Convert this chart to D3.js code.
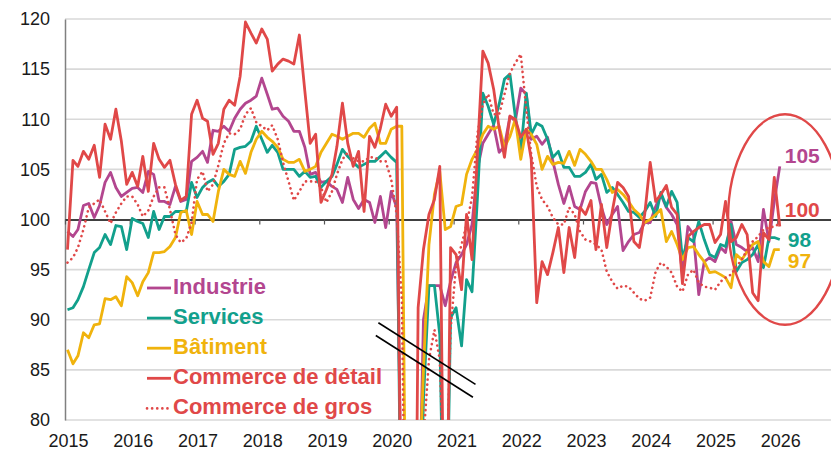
<!DOCTYPE html>
<html><head><meta charset="utf-8">
<script src="https://cdn.jsdelivr.net/npm/d3@7"></script>
<style>body{margin:0;background:#fff}svg{display:block}</style>
</head><body><svg id="c" width="831" height="452"></svg>
<script>
// Monthly data, Jan 2015 -> Jan 2026 (values below 80 fall off the plotted range)
const industrie = [
 98.8, 98.3, 99.0,101.4,101.6,100.2,101.4,103.7,104.7,103.2,
 102.3,102.7,103.1,103.2,102.7,104.8,104.5,101.8,101.8,101.5,
 103.3,101.8,102.0,105.8,106.2,106.8,105.7,108.9,108.8,109.3,
 108.8,110.1,111.0,111.6,111.9,112.3,114.1,112.5,111.0,111.1,
 110.3,109.8,108.8,108.8,107.2,104.5,104.7,103.7,103.8,103.3,
 103.0,101.7,104.2,102.0,101.1,102.0,101.7, 99.7,102.3, 99.2,
 102.8,101.2, 70.0, 50.0, 55.0, 65.0, 90.0, 93.4, 93.4, 93.4,
  91.4, 93.8, 95.7, 96.5, 97.5, 99.5,105.0,107.6,108.5,109.4,
 106.7,107.3,110.3,109.8,113.1,112.5,108.0,108.3,107.5,108.2,
 105.8,103.5,101.6,103.3,101.3,101.0,102.8,103.7,103.6,101.2,
  99.5,100.5,101.3, 96.9, 97.8, 98.5, 98.7, 99.7, 99.7,101.3,
 102.5,101.2,100.5, 99.5, 94.5, 99.3, 98.5, 92.5, 95.8, 96.2,
  95.8, 97.2, 96.7, 99.8, 97.5, 97.2, 96.8, 97.2, 95.8,101.0,
  97.8,101.8,105.3];
const services = [
 91.0, 91.2, 92.0, 93.3, 95.0, 96.7, 97.2, 98.5, 97.5, 99.4,
 99.3, 97.0,100.1, 99.8, 99.6, 98.2,100.8, 99.0,100.3,100.3,
 100.8,100.8,100.8,103.7,102.2,103.2,103.7,104.0,103.3,103.8,
 104.5,107.0,107.2,107.3,107.8,109.3,108.0,106.7,107.4,106.7,
 105.0,105.0,105.0,104.3,104.8,104.2,104.3,103.2,103.8,104.3,
 105.5,107.0,106.3,105.7,105.2,105.5,105.8,105.8,106.3,106.8,
 106.2,105.7, 60.0, 55.0, 55.0, 60.0, 82.0, 93.4, 93.4, 88.5,
  60.0, 90.2, 91.2, 87.4, 94.0, 92.8,102.0,112.6,111.3,109.5,
 111.5,114.0,114.5,110.3,106.8,112.6,108.5,109.6,109.3,108.0,
 106.2,106.8,105.2,105.2,104.3,104.3,104.7,105.5,104.0,104.5,
 102.7,103.2,102.5,101.7,100.8,100.7,100.2,100.8,101.7,100.3,
 102.7,101.3,102.8,101.7, 96.0, 98.2, 97.8, 99.8, 98.0, 96.5,
  96.2, 97.5, 97.3, 99.5, 94.8, 95.7, 96.0, 96.5, 97.5, 95.2,
  98.2, 98.2, 98.0];
const batiment = [
 87.0, 85.6, 86.4, 88.7, 88.2, 89.5, 89.6, 92.1, 92.0, 92.3,
 91.4, 94.3, 93.7, 92.4, 93.8, 94.7, 96.7, 96.7, 96.8, 97.3,
 98.2,100.7,100.9, 98.5,101.8,100.5,100.5, 99.8,102.8,105.0,
 104.5,104.3,105.8,104.6,106.7,108.0,108.8,108.2,107.8,107.2,
 106.0,105.7,105.7,106.0,104.8,105.0,105.3,106.7,107.6,108.5,
 108.3,108.0,108.3,108.6,108.6,108.2,109.1,109.6,107.6,107.6,
 109.0,109.3,109.3, 50.0, 55.0, 70.0, 85.0, 97.5,102.5,104.8,
  99.0, 99.3,101.3,101.5,104.5,106.0,107.0,108.5,109.3,109.0,
 109.3,107.2,108.3,110.0,106.0,109.0,108.5,107.5,105.0,106.3,
 105.5,105.7,105.6,106.8,105.4,107.0,106.5,105.8,105.0,105.0,
 104.0,102.7,103.0,102.5,101.8,101.0,100.5, 99.7,100.0,100.5,
 101.0, 97.8, 98.8, 97.5, 96.0, 97.2, 97.3, 96.5, 95.8, 94.7,
  94.8, 94.5, 94.2, 93.2, 96.5, 96.0, 96.8, 97.5, 97.8, 95.8,
  95.3, 97.0, 97.0];
const commerceDetail = [
 97.0,105.9,105.3,106.8,106.0,107.4,104.2,109.5,108.0,111.0,
 107.8,103.5,104.7,103.3,106.3,102.8,107.6,106.0,105.2,105.9,
 103.5,101.9,102.3,110.5,111.9,110.1,109.8,106.5,107.6,111.0,
 111.9,111.4,114.3,119.7,118.6,117.6,119.0,118.0,114.8,115.5,
 116.0,115.8,115.5,118.4,112.8,107.6,108.5,101.7,103.0,104.5,
 107.3,111.6,107.6,105.3,106.8,100.8,108.3,107.2,109.1,111.5,
 110.3,111.2, 60.0, 40.0, 30.0, 91.2, 97.0,100.5,102.0,105.3,
  55.0, 97.2, 96.5, 93.0,100.5, 96.0,106.5,116.8,115.6,113.0,
 109.1,106.2,110.3,110.0,108.2,109.0,106.0, 91.7, 95.8, 94.5,
  96.7, 99.2, 94.7, 99.2, 96.2,101.2,100.5,101.9, 97.0,101.5,
  97.2,100.8,103.7,103.2,102.3, 97.8, 97.2,100.5,105.7,101.8,
 102.5,103.4,101.2,100.5, 93.6, 98.3, 98.8, 99.2, 99.5, 99.5,
  97.7, 98.5,101.8, 97.8, 98.2, 99.5, 98.5, 92.7, 91.9, 98.7,
  98.0,104.2, 99.3];
const commerceGros = [
 95.7, 96.2, 97.2, 99.0,101.2,101.6,102.0,100.8, 99.6,100.7,
 101.6,102.3,102.3,101.5,100.3,100.9,102.3,103.2,103.2,101.0,
  98.5, 97.7, 98.1, 99.7,104.0,104.8,102.8,103.5,105.4,107.6,
 108.6,108.5,109.0,110.5,111.1,109.7,109.3,108.9,109.4,108.0,
 105.7,103.8,101.9,102.8,103.8,103.8,103.8,103.2,101.7,102.8,
 104.5,106.0,106.7,106.1,105.8,105.8,106.2,106.2,105.8,105.8,
 104.0,100.5, 92.0, 50.0, 55.0, 65.0, 78.0, 86.0, 89.0, 86.0,
  70.0, 89.0, 95.5, 97.5, 99.5,102.2,108.5,111.5,112.5,110.5,
 110.5,112.5,114.6,115.6,116.5,111.0,106.5,103.3,102.0,101.3,
 100.2, 99.5, 99.5,101.2,100.5, 98.8, 98.0, 97.8, 97.5, 97.0,
  94.8, 93.8, 93.1, 93.4, 93.3, 92.7, 92.1, 91.9, 92.2, 94.8,
  95.7, 95.3, 94.7, 93.3, 92.8, 94.5, 95.0, 93.7, 93.3, 93.2,
  93.0, 93.8, 94.2, 94.5, 95.3, 96.0, 97.0, 97.8, 98.3, 99.0,
  99.2, 99.3, 99.6];

const seriesNames = ["Industrie","Services","Bâtiment","Commerce de détail","Commerce de gros"];
const seriesValues = [industrie, services, batiment, commerceDetail, commerceGros];
const seriesColors = ["#b3468f","#12a08c","#f0b30d","#e04848","#e04848"];
const seriesDotted = [false,false,false,false,true];
const yTicks = [80,85,90,95,100,105,110,115,120];
const yearLabels = [2015,2016,2017,2018,2019,2020,2021,2022,2023,2024,2025,2026];
const endLabelText = ["105","98","97","100"];
const endLabelSeries = [0,1,2,3];
const endLabelAt = [106.4,98.0,95.9,101.0];

const months = d3.timeMonths(new Date(2015,0,1), new Date(2026,1,1)); // Jan 2015 .. Jan 2026
const midMonth = m => new Date(m.getFullYear(), m.getMonth(), 15);

const W = 831, H = 452;
const FONT = "'Liberation Sans', Arial, Helvetica, sans-serif";
const svg = d3.select("#c");
svg.append("rect").attr("width",W).attr("height",H).attr("fill","#fff");

const x = d3.scaleTime().domain([new Date(2015,0,1), new Date(2027,0,1)]).range([65, 842]);
const y = d3.scaleLinear().domain([80,120]).range([420, 19]);

// gridlines
svg.append("g").selectAll("line").data(yTicks.filter(v => v !== 100)).join("line")
  .attr("x1", x.range()[0]).attr("x2", W)
  .attr("y1", d => y(d)).attr("y2", d => y(d))
  .attr("stroke", "#d9d9d9").attr("stroke-width", 1.6);

// y axis
const ya = svg.append("g").attr("transform", `translate(${x.range()[0]},0)`)
  .call(d3.axisLeft(y).tickValues(yTicks).tickSize(0).tickPadding(15));
ya.select(".domain").attr("stroke", "#808080").attr("stroke-width", 1.5);
ya.selectAll("text").attr("font-size", 18).attr("font-family", FONT).attr("fill", "#1a1a1a");

// x axis along 100
const xa = svg.append("g").attr("transform", `translate(0,${y(100)})`)
  .call(d3.axisBottom(x).ticks(d3.timeYear.every(1)).tickSize(5).tickSizeOuter(0).tickFormat(""));
xa.select(".domain").attr("stroke", "#000").attr("stroke-width", 1.3);
xa.selectAll(".tick line").attr("stroke", "#555").attr("stroke-width", 1.2);

// year labels
const xl = svg.append("g").attr("transform", `translate(3,${y(80)})`)
  .call(d3.axisBottom(x).tickValues(yearLabels.map(v => new Date(v,0,1))).tickSize(0).tickPadding(14)
    .tickFormat(d3.timeFormat("%Y")));
xl.select(".domain").remove();
xl.selectAll("text").attr("font-size", 18).attr("font-family", FONT).attr("fill", "#1a1a1a");

// clip
svg.append("clipPath").attr("id","plot").append("rect")
  .attr("x", x.range()[0]).attr("y", y(120) - 2).attr("width", W - x.range()[0]).attr("height", y(80) - y(120) + 2);

const line = d3.line().x((d,i) => x(midMonth(months[i]))).y(d => y(d));
const gl = svg.append("g").attr("clip-path","url(#plot)");
seriesValues.forEach((vals, k) => {
  gl.append("path").datum(vals).attr("d", line)
    .attr("fill","none").attr("stroke", seriesColors[k])
    .attr("stroke-width", seriesDotted[k] ? 2.6 : 2.8)
    .attr("stroke-linejoin","round")
    .attr("stroke-linecap", seriesDotted[k] ? "round" : "butt")
    .attr("stroke-dasharray", seriesDotted[k] ? "0.1 5" : null);
});

// break marks
const breakMarks = [
  [[2019.84, 89.7],[2021.34, 83.55]],
  [[2019.80, 88.43],[2021.30, 82.27]]
];
const yr = v => new Date(2015,0,1).getTime() + (v - 2015) * 365.25 * 864e5;
svg.append("g").selectAll("line").data(breakMarks).join("line")
  .attr("x1", d => x(yr(d[0][0]))).attr("y1", d => y(d[0][1]))
  .attr("x2", d => x(yr(d[1][0]))).attr("y2", d => y(d[1][1]))
  .attr("stroke","#000").attr("stroke-width",1.6);

// ellipse highlight
const ecx = x(yr(2026.12)), ecy = y(100);
svg.append("ellipse").attr("cx", ecx).attr("cy", ecy)
  .attr("rx", x(yr(2027)) - ecx).attr("ry", y(89.5) - ecy)
  .attr("fill","none").attr("stroke","#e04848").attr("stroke-width",2.4);

// end labels
const lastX = x(midMonth(months[months.length-1]));
svg.append("g").selectAll("text").data(endLabelText).join("text")
  .attr("x", (d,i) => lastX + (d.length === 3 ? 5 : 8))
  .attr("y", (d,i) => y(endLabelAt[i]))
  .attr("dy","0.36em")
  .attr("font-family", FONT).attr("font-weight","bold").attr("font-size",21)
  .attr("fill", (d,i) => seriesColors[endLabelSeries[i]])
  .text(d => d);

// legend
const lg = svg.append("g").attr("transform","translate(147,294)");
seriesNames.forEach((name, k) => {
  const row = lg.append("g").attr("transform", `translate(0,${k*30.1})`);
  row.append("line").attr("x1",0).attr("x2",24).attr("y1",-6).attr("y2",-6)
    .attr("stroke", seriesColors[k]).attr("stroke-width", seriesDotted[k] ? 2.6 : 2.8)
    .attr("stroke-linecap", seriesDotted[k] ? "round" : "butt")
    .attr("stroke-dasharray", seriesDotted[k] ? "0.1 5" : null);
  row.append("text").attr("x",26).attr("y",0)
    .attr("font-family", FONT).attr("font-weight","bold").attr("font-size",22)
    .attr("fill", seriesColors[k]).text(name);
});
</script></body></html>
